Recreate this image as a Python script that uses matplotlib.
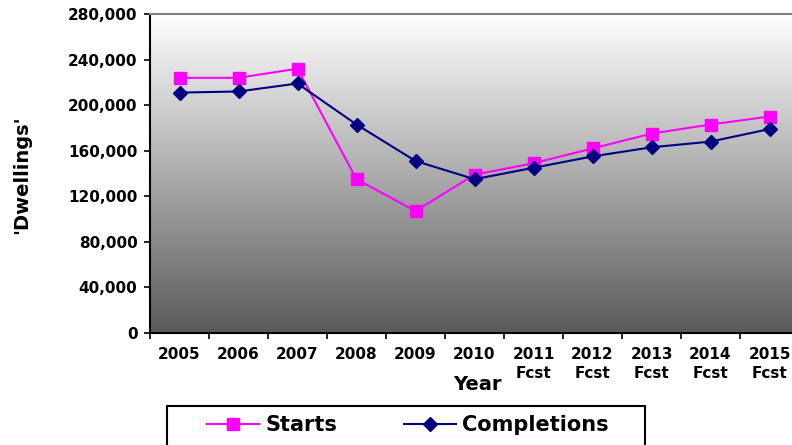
import numpy as np
import matplotlib
matplotlib.use("Agg")
import matplotlib.pyplot as plt
from matplotlib.patches import Rectangle

years = ["2005", "2006", "2007", "2008", "2009", "2010",
         "2011\nFcst", "2012\nFcst", "2013\nFcst", "2014\nFcst", "2015\nFcst"]
starts = [224000, 224000, 232000, 135000, 107000, 139000, 149000, 162000, 175000, 183000, 190000]
completions = [211000, 212000, 219000, 183000, 151000, 135000, 145000, 155000, 163000, 168000, 179000]
yticks = [0, 40000, 80000, 120000, 160000, 200000, 240000, 280000]

W, H = 792, 445
fig = plt.figure(figsize=(W / 100, H / 100), dpi=100)
fig.patch.set_facecolor("white")

left, right, top, bottom = 150, 799, 14, 333
ax = fig.add_axes([left / W, 1 - bottom / H, (right - left) / W, (bottom - top) / H])

# gradient background
grad = np.linspace(0, 1, 256).reshape(-1, 1)
ax.imshow(grad, extent=[0, 1, 0, 1], transform=ax.transAxes, aspect="auto",
          cmap=matplotlib.colors.LinearSegmentedColormap.from_list("g", ["#ffffff", "#5a5a5a"]),
          origin="upper", zorder=0)

x = np.arange(len(years))
ax.plot(x, starts, color="#ff00ff", lw=1.5, marker="s", markersize=8,
        markerfacecolor="#ff00ff", markeredgecolor="#ff00ff", label="Starts", zorder=3)
ax.plot(x, completions, color="#000080", lw=1.5, marker="D", markersize=7.5,
        markerfacecolor="#000080", markeredgecolor="#000080", label="Completions", zorder=4)

ax.set_xlim(-0.5, len(years) - 0.5)
ax.set_ylim(0, 280000)
ax.set_yticks(yticks)
ax.set_yticklabels([f"{v:,}" for v in yticks], fontsize=11, fontweight="bold")
ax.set_xticks(x)
ax.set_xticklabels(years, fontsize=11, fontweight="bold", linespacing=1.35, va="top")
ax.set_xticks(np.arange(-0.5, len(years), 1), minor=True)
ax.tick_params(axis="x", which="major", length=0, pad=10)
ax.tick_params(axis="x", which="minor", length=4, width=1.2, direction="out", color="black")
ax.tick_params(axis="y", length=4, width=1.2, direction="out", pad=5)

for s in ["left", "bottom"]:
    ax.spines[s].set_color("black")
    ax.spines[s].set_linewidth(1.5)
ax.spines["top"].set_color("#808080")
ax.spines["top"].set_linewidth(1.5)
ax.spines["right"].set_visible(False)

fig.text(22 / W, 1 - 175 / H, "'Dwellings'", rotation=90, ha="center", va="center",
         fontsize=14, fontweight="bold")
fig.text(477 / W, 1 - 385 / H, "Year", ha="center", va="center",
         fontsize=14, fontweight="bold")

# legend box
fig.patches.append(Rectangle((167 / W, 0 - 0.05), (645 - 167) / W, (1 - 406 / H) + 0.05,
                             transform=fig.transFigure, facecolor="white",
                             edgecolor="black", lw=1.5, zorder=1))
handles, labels = ax.get_legend_handles_labels()
leg = fig.legend(handles, labels, loc="center", bbox_to_anchor=(408 / W, 1 - 425 / H),
                 ncol=2, frameon=False, prop={"size": 15, "weight": "bold"},
                 handlelength=2.5, columnspacing=3.2, handletextpad=0.3)
leg.set_zorder(2)

fig.savefig("out.png", dpi=100)
